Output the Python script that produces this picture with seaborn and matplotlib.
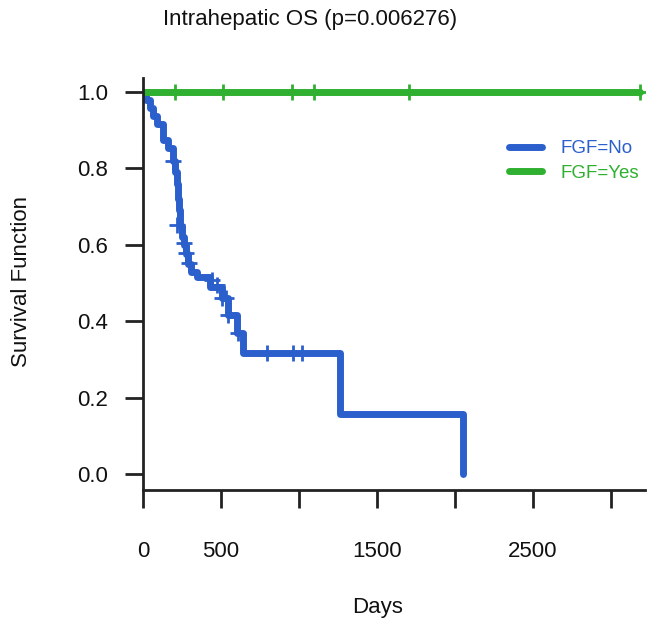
import numpy as np
import pandas as pd
import matplotlib
matplotlib.use("Agg")
import matplotlib.pyplot as plt
import seaborn as sns

# Kaplan-Meier step values (days, survival)
no_times = [0, 19, 45, 64, 90, 128, 160, 192, 205, 215, 222, 230, 240, 250, 262,
            275, 290, 310, 345, 430, 505, 545, 600, 640, 1263, 2050]
no_surv = [1.0, 0.979, 0.958, 0.937, 0.916, 0.874, 0.853, 0.82, 0.79, 0.76, 0.72,
           0.69, 0.65, 0.62, 0.60, 0.575, 0.55, 0.53, 0.516, 0.49, 0.46, 0.416,
           0.37, 0.316, 0.158, 0.0]
# censored observations
no_cens_t = [192, 220, 262, 275, 295, 440, 474, 506, 535, 545, 609, 795, 960, 1020]
no_cens_s = [0.82, 0.652, 0.605, 0.578, 0.553, 0.508, 0.495, 0.46, 0.46, 0.416,
             0.37, 0.316, 0.316, 0.316]

yes_times = [0, 3186]
yes_surv = [1.0, 1.0]
yes_cens_t = [205, 513, 955, 1096, 1705, 3186]
yes_cens_s = [1.0, 1.0, 1.0, 1.0, 1.0, 1.0]

groups = ["FGF=No", "FGF=Yes"]
colors = {"FGF=No": "#2b5fcc", "FGF=Yes": "#30b030"}

x_ticks = [0, 500, 1000, 1500, 2000, 2500, 3000]
x_ticklabels = ["0", "500", "", "1500", "", "2500", ""]
y_ticks = [0.0, 0.2, 0.4, 0.6, 0.8, 1.0]

sns.set_style("white")
plt.rcParams["font.family"] = ["Liberation Sans", "DejaVu Sans"]

fig = plt.figure(figsize=(6.67, 6.33), dpi=100)
ax = fig.add_axes([143 / 667, 1 - 490 / 633, (645 - 143) / 667, (490 - 78) / 633])

steps = {"FGF=No": (no_times, no_surv), "FGF=Yes": (yes_times, yes_surv)}
cens = {"FGF=No": (no_cens_t, no_cens_s), "FGF=Yes": (yes_cens_t, yes_cens_s)}

handles = []
for g in groups:
    t, s = steps[g]
    df = pd.DataFrame({"t": t, "s": s})
    sns.lineplot(data=df, x="t", y="s", estimator=None, sort=False,
                 drawstyle="steps-post", color=colors[g], linewidth=5, ax=ax)
    handles.append(ax.lines[-1])
    ct, cs = cens[g]
    sns.scatterplot(x=ct, y=cs, marker="+", s=140, color=colors[g],
                    linewidth=2, zorder=5, ax=ax)

ax.set_xlim(0, 3218)
ax.set_ylim(-0.042, 1.037)
ax.set_xticks(x_ticks)
ax.set_xticklabels(x_ticklabels)
ax.set_yticks(y_ticks)
ax.set_yticklabels([f"{v:.1f}" for v in y_ticks])
ax.set_xlabel("")
ax.set_ylabel("")

for side in ["top", "right"]:
    ax.spines[side].set_visible(False)
for side in ["left", "bottom"]:
    ax.spines[side].set_linewidth(2)
    ax.spines[side].set_color("#222222")

ax.tick_params(axis="x", direction="out", length=13, width=2, color="#222222",
               labelsize=16, labelcolor="#111111", pad=24, bottom=True)
ax.tick_params(axis="y", direction="out", length=13, width=2, color="#222222",
               labelsize=16, labelcolor="#111111", pad=12, left=True)

fig.text(310 / 667, 1 - 20 / 633, "Intrahepatic OS (p=0.006276)",
         ha="center", va="center", fontsize=16, color="#111111")
fig.text(378 / 667, 1 - 607 / 633, "Days", ha="center", va="center",
         fontsize=16, color="#111111")
fig.text(22 / 667, 1 - 282 / 633, "Survival Function", ha="center", va="center",
         rotation=90, fontsize=16, color="#111111")

leg = ax.legend(handles, groups, loc="upper left", frameon=False,
                bbox_to_anchor=(509 / 667, 1 - 140 / 633),
                bbox_transform=fig.transFigure, borderpad=0, borderaxespad=0,
                handlelength=1.75, handletextpad=1.0, labelspacing=0.4,
                fontsize=13.5)
for txt, g in zip(leg.get_texts(), groups):
    txt.set_color(colors[g])

fig.savefig("out.png", dpi=100)
